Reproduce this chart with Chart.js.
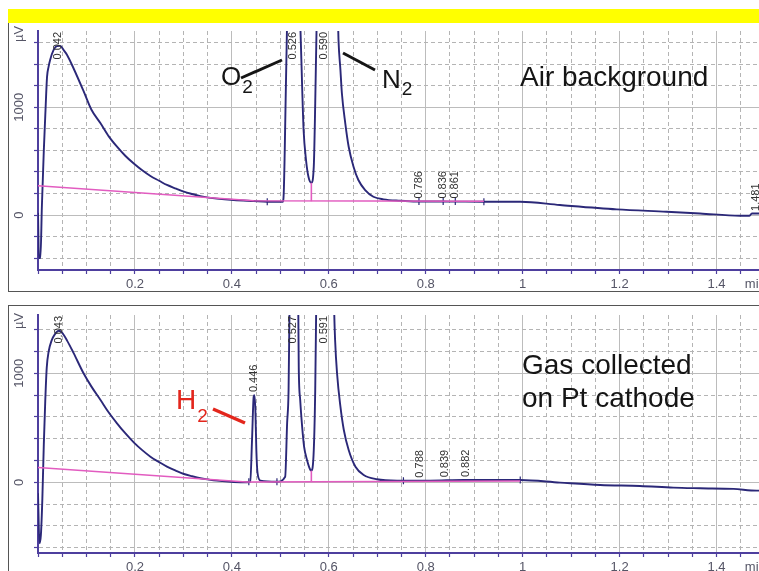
<!DOCTYPE html>
<html>
<head>
<meta charset="utf-8">
<script src="https://cdn.jsdelivr.net/npm/chart.js@4.4.0/dist/chart.umd.min.js"></script>
<style>
  html, body { margin: 0; padding: 0; background: #fff; width: 759px; height: 571px; overflow: hidden; }
  body { position: relative; font-family: "Liberation Sans", Arial, sans-serif; }
  canvas { position: absolute; left: 0; }
  #cAir { top: 22px; }
  #cGas { top: 305px; }
  .bar { position: absolute; left: 8px; top: 9px; width: 751px; height: 14px; background: #ffff00; }
  .frame { position: absolute; border: 0 solid #555; }
  .note { position: absolute; white-space: nowrap; line-height: 1; color: #151515; }
  .note .sub { position: relative; font-size: 19px; }
  svg { position: absolute; left: 0; top: 0; }
</style>
</head>
<body>
<canvas id="cAir" width="800" height="270"></canvas>
<canvas id="cGas" width="800" height="266"></canvas>

<div class="frame" style="left:8px;top:22px;width:760px;height:269px;border-left-width:1px;border-bottom-width:1px"></div>
<div class="frame" style="left:8px;top:305px;width:760px;height:300px;border-left-width:1px;border-top-width:1px"></div>
<div class="bar"></div>

<svg width="759" height="571">
  <line x1="241" y1="78" x2="282" y2="60" stroke="#151515" stroke-width="3"/>
  <line x1="343" y1="53" x2="375" y2="70" stroke="#151515" stroke-width="3"/>
  <line x1="213" y1="409" x2="245" y2="423" stroke="#e3261c" stroke-width="3.5"/>
</svg>
<div class="note" style="left:221px;top:63px;font-size:26px">O<span class="sub" style="top:8px;margin-left:1px">2</span></div>
<div class="note" style="left:382px;top:66px;font-size:26px">N<span class="sub" style="top:7px;margin-left:1px">2</span></div>
<div class="note" style="left:520px;top:63px;font-size:28px">Air background</div>
<div class="note" style="left:522px;top:351px;font-size:28px">Gas collected</div>
<div class="note" style="left:522px;top:384px;font-size:28px">on Pt cathode</div>
<div class="note" style="left:176px;top:386px;font-size:28px;color:#e3261c">H<span class="sub" style="top:13px;margin-left:1px">2</span></div>

<script>
// ---- values (time in min, signal in µV) ----

// top run: air background
const airTime = [0, 0.002, 0.005, 0.008, 0.012, 0.0155, 0.0186, 0.022, 0.025, 0.032, 0.039, 0.046, 0.053, 0.060,
  0.0735, 0.0945, 0.110, 0.129, 0.146, 0.163, 0.180, 0.197, 0.215, 0.232, 0.250, 0.266, 0.285, 0.301, 0.318,
  0.335, 0.352, 0.369, 0.404, 0.445, 0.473, 0.505, 0.507, 0.509, 0.514, 0.527, 0.541, 0.545, 0.548, 0.553,
  0.558, 0.564, 0.569, 0.572, 0.575, 0.590, 0.619, 0.620, 0.624, 0.627, 0.634, 0.641, 0.651, 0.661, 0.675,
  0.692, 0.713, 0.747, 0.781, 0.850, 0.919, 0.995, 1.077, 1.194, 1.297, 1.366, 1.448, 1.468, 1.473, 1.5];
const airSignal = [20, -400, -400, 80, 600, 975, 1280, 1380, 1440, 1530, 1568, 1570, 1530, 1485,
  1360, 1145, 980, 851, 730, 634, 550, 480, 415, 362, 318, 279, 245, 217, 195,
  176, 162, 152, 139, 130, 124, 124, 200, 573, 1800, 3000, 1800, 1191, 789, 511,
  356, 300, 449, 1037, 1800, 6000, 1800, 1625, 1346, 1130, 851, 634, 449, 325, 232,
  170, 146, 133, 126, 125, 124, 124, 93, 53, 31, 15, -6, -6, 15, 15];
const airBaseTime = [0, 0.445, 0.92];
const airBaseSignal = [272, 132, 128];
const airDropTime = [0.564, 0.564];
const airDropSignal = [128, 300];
const airEventTime = [0.473, 0.786, 0.836, 0.861, 0.92];
const airEventSignal = [124, 126, 125, 125, 124];
const airPeakTime = [0.042, 0.526, 0.590, 0.786, 0.836, 0.861, 1.481];
const airPeakName = ['0.042', '0.526', '0.590', '0.786', '0.836', '0.861', '1.481'];
const airPeakHeight = [1570, 3000, 6000, 125, 125, 125, 10];

// bottom run: gas collected on Pt cathode
const gasTime = [0, 0.003, 0.006, 0.009, 0.012, 0.015, 0.018, 0.022, 0.028, 0.035, 0.043, 0.050, 0.060, 0.073,
  0.094, 0.110, 0.129, 0.146, 0.163, 0.180, 0.198, 0.215, 0.232, 0.250, 0.266, 0.285, 0.301, 0.318, 0.335,
  0.352, 0.369, 0.404, 0.431, 0.438, 0.4416, 0.445, 0.4466, 0.4485, 0.4505, 0.453, 0.459, 0.493, 0.510, 0.514,
  0.517, 0.519, 0.528, 0.537, 0.538, 0.541, 0.545, 0.549, 0.555, 0.562, 0.564, 0.569, 0.572, 0.574, 0.591,
  0.611, 0.613, 0.617, 0.624, 0.631, 0.641, 0.655, 0.672, 0.699, 0.741, 0.809, 0.878, 0.995, 1.077, 1.160,
  1.242, 1.311, 1.366, 1.435, 1.483, 1.5];
const gasSignal = [-100, -560, -480, -150, 350, 750, 1050, 1200, 1300, 1360, 1390, 1370, 1300, 1190,
  1000, 880, 755, 640, 541, 450, 364, 295, 235, 185, 144, 105, 76, 55, 37,
  25, 15, 3, 0, 5, 388, 785, 800, 663, 296, 83, 15, 5, 51, 541,
  847, 1600, 3000, 1600, 1061, 755, 510, 327, 205, 113, 107, 296, 847, 1600, 8000,
  1600, 1306, 1000, 694, 480, 296, 143, 67, 28, 15, 15, 21, 21, -3, -25,
  -34, -49, -55, -61, -77, -77];
const gasBaseTime = [0, 0.43, 0.995];
const gasBaseSignal = [135, 3, 12];
const gasDropTime = [0.564, 0.564];
const gasDropSignal = [5, 107];
const gasEventTime = [0.435, 0.493, 0.754, 0.995];
const gasEventSignal = [5, 5, 14, 21];
const gasPeakTime = [0.043, 0.446, 0.527, 0.591, 0.788, 0.839, 0.882];
const gasPeakName = ['0.043', '0.446', '0.527', '0.591', '0.788', '0.839', '0.882'];
const gasPeakHeight = [1390, 800, 3000, 8000, 15, 18, 20];

// axis labels
const xLabelTicks = [0.2, 0.4, 0.6, 0.8, 1, 1.2, 1.4];
const xLabelText = ['0.2', '0.4', '0.6', '0.8', '1', '1.2', '1.4'];
const xUnit = 'min';
const xUnitAt = 1.48;
const yLabelTicks = [0, 1000];
const yLabelText = ['0', '1000'];
const yUnit = 'µV';

const NAVY = '#2b2878';
const PINK = '#e25cc0';
const AXIS = '#4e3f9e';
const DASH = '#b4b4b4';
const SOLID = '#bcbcbc';
const LABEL = '#555566';
const NONE = 'rgba(0,0,0,0)';
const FAMILY = "'Liberation Sans', Arial, sans-serif";

const xDashTicks = [];
for (let i = 0; i <= 30; i++) xDashTicks.push(Math.round(i * 5) / 100);

const near = (a, b) => Math.abs(a - b) < 1e-6;
const pts = (xs, ys) => xs.map((x, i) => ({x: x, y: ys[i]}));

// vertical retention-time labels above each peak
const peakLabels = {
  id: 'peakLabels',
  afterDatasetsDraw(chart, args, opts) {
    const ctx = chart.ctx, area = chart.chartArea;
    const xs = chart.scales.x, ys = chart.scales.y;
    ctx.save();
    ctx.font = '11px ' + FAMILY;
    ctx.fillStyle = '#333';
    ctx.textAlign = 'left';
    ctx.textBaseline = 'middle';
    opts.times.forEach((t, i) => {
      const text = opts.names[i];
      const w = ctx.measureText(text).width;
      let bottom = ys.getPixelForValue(opts.heights[i]) - 3;
      if (bottom - w < area.top + 1) bottom = area.top + 1 + w;
      ctx.save();
      ctx.translate(xs.getPixelForValue(t), bottom);
      ctx.rotate(-Math.PI / 2);
      ctx.fillText(text, 0, 0);
      ctx.restore();
    });
    ctx.restore();
  }
};

function buildChart(id, s) {
  const yDash = [];
  for (let v = Math.ceil(s.yMin / 200) * 200; v < s.yMax - 100; v += 200) yDash.push(v);

  return new Chart(document.getElementById(id), {
    type: 'line',
    data: {
      datasets: [
        { data: pts(s.baseTime, s.baseSignal), borderColor: PINK, borderWidth: 1.6, pointRadius: 0 },
        { data: pts(s.dropTime, s.dropSignal), borderColor: PINK, borderWidth: 1.6, pointRadius: 0 },
        { data: pts(s.time, s.signal), borderColor: NAVY, borderWidth: 1.9, pointRadius: 0,
          cubicInterpolationMode: 'monotone' },
        { type: 'scatter', data: pts(s.eventTime, s.eventSignal), pointStyle: 'line', rotation: 90,
          radius: 3.5, borderColor: NAVY, borderWidth: 1.2 }
      ]
    },
    options: {
      responsive: false,
      animation: false,
      events: [],
      devicePixelRatio: 1,
      layout: { padding: { left: 8, right: 35, top: s.padTop, bottom: 0 } },
      plugins: {
        legend: { display: false },
        tooltip: { enabled: false },
        peakLabels: { times: s.peakTime, names: s.peakName, heights: s.peakHeight }
      },
      scales: {
        x: {
          type: 'linear', min: 0, max: 1.5, position: 'bottom',
          afterBuildTicks: sc => { sc.ticks = xDashTicks.concat([xUnitAt]).map(v => ({value: v})); },
          afterFit: sc => { sc.height = s.xAxisHeight; },
          ticks: {
            autoSkip: false, minRotation: 0, maxRotation: 0, padding: 3, color: LABEL,
            font: { family: FAMILY, size: 13 },
            callback: v => {
              if (near(v, xUnitAt)) return xUnit;
              const k = xLabelTicks.findIndex(t => near(t, v));
              return k >= 0 ? xLabelText[k] : '';
            }
          },
          grid: {
            color: c => (c.tick && (near(c.tick.value, xUnitAt) ||
              near(c.tick.value * 5, Math.round(c.tick.value * 5)))) ? NONE : DASH,
            lineWidth: 1, tickLength: 4, tickWidth: 1.2,
            tickColor: c => (c.tick && near(c.tick.value, xUnitAt)) ? NONE : AXIS
          },
          border: { color: AXIS, width: 2, dash: [4, 3] }
        },
        x2: {
          type: 'linear', min: 0, max: 1.5, position: 'top',
          afterBuildTicks: sc => { sc.ticks = xLabelTicks.map(v => ({value: v})); },
          afterFit: sc => { sc.height = 0; },
          ticks: { display: false },
          grid: { color: SOLID, lineWidth: 1, drawTicks: false },
          border: { display: false }
        },
        y: {
          type: 'linear', min: s.yMin, max: s.yMax, position: 'left',
          afterBuildTicks: sc => { sc.ticks = yDash.concat([s.unitAt]).map(v => ({value: v})); },
          afterFit: sc => { sc.width = 30; },
          ticks: {
            autoSkip: false, minRotation: 90, maxRotation: 90, crossAlign: 'center', padding: 0,
            color: LABEL, font: { family: FAMILY, size: 13 },
            callback: v => {
              if (v === s.unitAt) return yUnit;
              const k = yLabelTicks.indexOf(v);
              return k >= 0 ? yLabelText[k] : '';
            }
          },
          grid: {
            color: c => (c.tick && (c.tick.value % 1000 === 0 || c.tick.value === s.unitAt)) ? NONE : DASH,
            lineWidth: 1, tickLength: 4, tickWidth: 1.2,
            tickColor: c => (c.tick && c.tick.value === s.unitAt) ? NONE : AXIS
          },
          border: { color: AXIS, width: 2, dash: [4, 3] }
        },
        y2: {
          type: 'linear', min: s.yMin, max: s.yMax, position: 'right',
          afterBuildTicks: sc => { sc.ticks = yLabelTicks.map(v => ({value: v})); },
          afterFit: sc => { sc.width = 0; },
          ticks: { display: false },
          grid: { color: SOLID, lineWidth: 1, drawTicks: false },
          border: { display: false }
        }
      }
    },
    plugins: [peakLabels]
  });
}

buildChart('cAir', {
  time: airTime, signal: airSignal, baseTime: airBaseTime, baseSignal: airBaseSignal,
  dropTime: airDropTime, dropSignal: airDropSignal, eventTime: airEventTime, eventSignal: airEventSignal,
  peakTime: airPeakTime, peakName: airPeakName, peakHeight: airPeakHeight,
  yMin: -510, yMax: 1708, unitAt: 1680, padTop: 9, xAxisHeight: 22
});

buildChart('cGas', {
  time: gasTime, signal: gasSignal, baseTime: gasBaseTime, baseSignal: gasBaseSignal,
  dropTime: gasDropTime, dropSignal: gasDropSignal, eventTime: gasEventTime, eventSignal: gasEventSignal,
  peakTime: gasPeakTime, peakName: gasPeakName, peakHeight: gasPeakHeight,
  yMin: -649, yMax: 1535, unitAt: 1480, padTop: 10, xAxisHeight: 18
});
</script>
</body>
</html>
